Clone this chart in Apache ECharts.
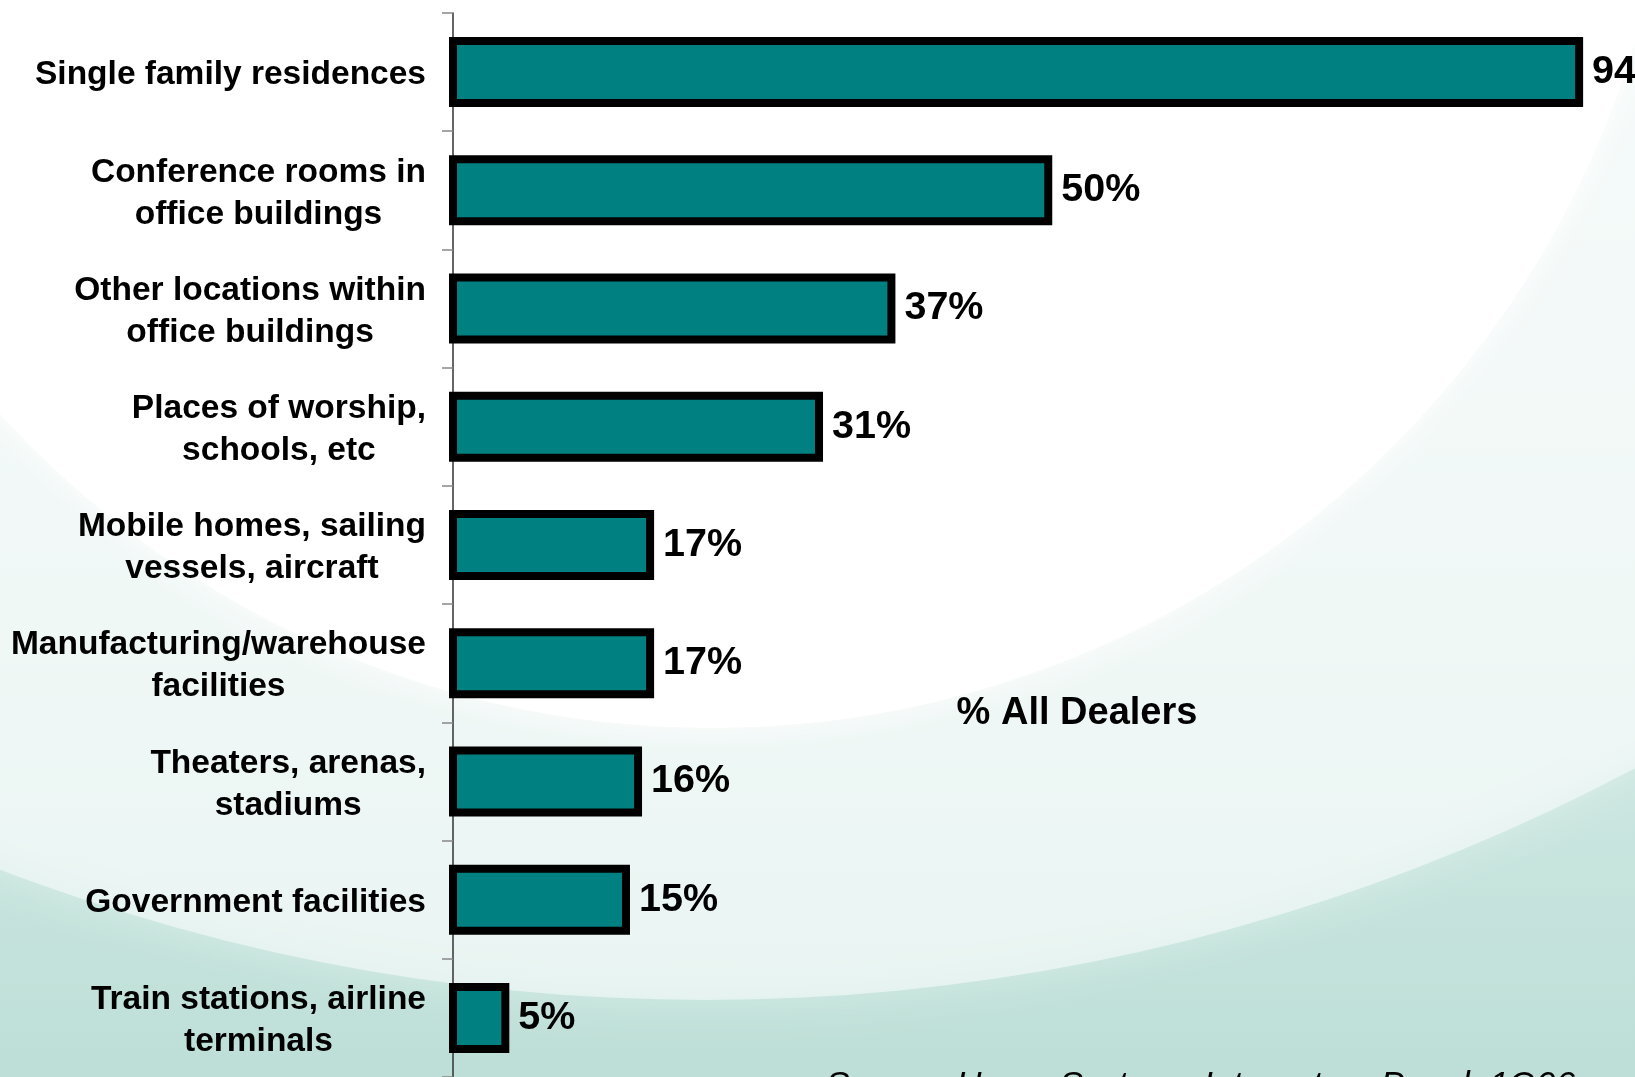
<!DOCTYPE html>
<html>
<head>
<meta charset="utf-8">
<title>Dealer installation locations</title>
<script src="https://cdn.jsdelivr.net/npm/echarts@6/dist/echarts.min.js"></script>
<style>
  html, body { margin: 0; padding: 0; background: #ffffff; }
  #chart { width: 1635px; height: 1077px; }
</style>
</head>
<body>
<div id="chart"></div>
<script>
// Locations where dealers install systems (share of all dealers, %)
const categories = [
  'Single family residences',
  'Conference rooms in\noffice buildings',
  'Other locations within\noffice buildings',
  'Places of worship,\nschools, etc',
  'Mobile homes, sailing\nvessels, aircraft',
  'Manufacturing/warehouse\nfacilities',
  'Theaters, arenas,\nstadiums',
  'Government facilities',
  'Train stations, airline\nterminals'
];
const values = [94, 50, 37, 31, 17, 17, 16, 15, 5];
const axisTitle = '% All Dealers';
const sourceNote = 'Source: Home Systems Integrators Panel, 1Q06';

const FONT = '"Liberation Sans", Arial, Helvetica, sans-serif';

const chart = echarts.init(document.getElementById('chart'), null, { renderer: 'canvas' });

chart.setOption({
  backgroundColor: '#ffffff',
  animation: false,
  graphic: [
    // mint backdrop
    {
      type: 'rect', z: -10, silent: true,
      shape: { x: 0, y: 0, width: 1635, height: 1077 },
      style: {
        fill: new echarts.graphic.LinearGradient(0, 0, 0, 1, [
          { offset: 0, color: '#e4f2ef' },
          { offset: 0.6, color: '#d2e9e4' },
          { offset: 1, color: '#bddfd7' }
        ])
      }
    },
    // lighter sweeping band
    {
      type: 'circle', z: -9, silent: true,
      shape: { cx: 706, cy: -977, r: 1977 },
      style: { fill: 'rgba(255,255,255,0.5)', shadowBlur: 40, shadowColor: 'rgba(255,255,255,0.6)' }
    },
    // white sweep behind the bars
    {
      type: 'circle', z: -8, silent: true,
      shape: { cx: 712, cy: -236, r: 964 },
      style: { fill: '#ffffff', shadowBlur: 35, shadowColor: 'rgba(255,255,255,1)' }
    },
    {
      type: 'text', z: 5,
      style: {
        text: axisTitle,
        x: 1077, y: 714,
        textAlign: 'center', textVerticalAlign: 'middle',
        font: 'bold 38px ' + FONT,
        fill: '#000000'
      }
    },
    {
      type: 'text', z: 5,
      style: {
        text: sourceNote,
        x: 826, y: 1069,
        textAlign: 'left', textVerticalAlign: 'top',
        font: 'italic 35px ' + FONT,
        fill: '#000000'
      }
    }
  ],
  grid: {
    left: 449,
    top: 13,
    right: 0,
    height: 1071,
    containLabel: false
  },
  xAxis: {
    type: 'value',
    min: 0,
    max: 98.3,
    show: false
  },
  yAxis: {
    type: 'category',
    data: categories,
    inverse: true,
    // the axis line sits just inside the bars' outlined left edge
    offset: -4,
    axisLine: { show: true, lineStyle: { color: '#333333', width: 1.5 } },
    axisTick: { show: true, length: 11, lineStyle: { color: '#888888', width: 1.5 } },
    axisLabel: {
      interval: 0,
      margin: 27,
      align: 'right',
      padding: [6, 0, 0, 0],
      // each line is centred within the label block, the block sits right-aligned
      formatter: function (v) {
        return v.split('\n').map(function (line) { return '{c|' + line + '}'; }).join('\n');
      },
      rich: {
        c: {
          align: 'center',
          fontFamily: FONT,
          fontSize: 33.5,
          fontWeight: 'bold',
          lineHeight: 42,
          color: '#000000'
        }
      }
    },
    splitLine: { show: false }
  },
  series: [{
    type: 'bar',
    data: values,
    barWidth: 70,
    itemStyle: {
      color: '#008080',
      borderColor: '#000000',
      borderWidth: 8
    },
    label: {
      show: true,
      position: 'right',
      distance: 9,
      formatter: '{c}%',
      fontFamily: FONT,
      fontSize: 39.5,
      fontWeight: 'bold',
      color: '#000000'
    }
  }]
});
</script>
</body>
</html>
